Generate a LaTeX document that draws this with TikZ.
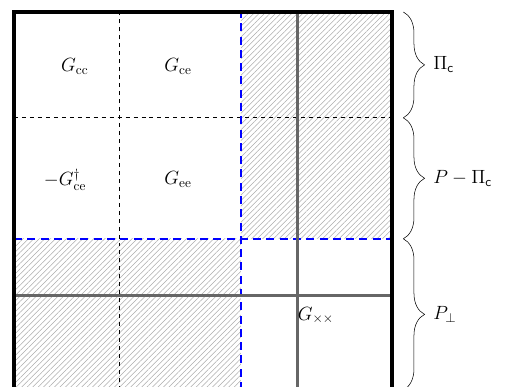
\documentclass[tikz,border=0pt]{standalone}
\usetikzlibrary{patterns.meta,decorations.pathreplacing}
\begin{document}
\begin{tikzpicture}[line cap=butt,line join=miter,every node/.style={font=\Large}]
  \def\N{10}
  \def\xc{2.8}
  \def\xe{6}
  \def\xx{7.5}
  \def\yc{7.2}
  \def\ye{4}
  \def\yx{2.5}
  \useasboundingbox (-0.37,0.079) rectangle (13.36,10.317);

  \coordinate (SW) at (0,0);
  \coordinate (NE) at (\N,\N);

  % Hatched blocks
  \fill[pattern={Lines[angle=45,distance=2.9pt,line width=0.4pt]},pattern color=gray!65] (\xe,\ye) rectangle (\N,\N);
  \fill[pattern={Lines[angle=45,distance=2.9pt,line width=0.4pt]},pattern color=gray!65] (0,0) rectangle (\xe,\ye);

  % Block borders
  \draw[thick,dashed] (\xc,0) -- (\xc,\N);
  \draw[thick,dashed] (0,\yc) -- (\N,\yc);
  \draw[blue,line width=1.6pt,dash pattern=on 6pt off 4pt] (\xe,0) -- (\xe,\N);
  \draw[blue,line width=1.6pt,dash pattern=on 6pt off 4pt] (0,\ye) -- (\N,\ye);
  \draw[black!60,line width=2pt] (\xx,0) -- (\xx,\N);
  \draw[black!60,line width=2pt] (0,\yx) -- (\N,\yx);
  \draw[line width=2.4pt] (SW) rectangle (NE);

  % Labels
  \node (gcc) at (1.61,8.55) {$G_{\mathrm{cc}}$};
  \node (gce) at (4.34,8.55) {$G_{\mathrm{ce}}$};
  \node (gec) at (1.35,5.56) {$-G_{\mathrm{ce}}^{\dagger}$};
  \node (gee) at (4.34,5.56) {$G_{\mathrm{ee}}$};
  \node[anchor=base west,inner sep=0pt] (gxx) at (\xx,1.85) {$G_{\times\times}$};

  % Braces
  \draw[decorate,decoration={brace,amplitude=16pt}] (10.3,\N) -- (10.3,\yc)
    node[midway,right=19pt] (pic) {$\Pi_{\mathsf{c}}$};
  \draw[decorate,decoration={brace,amplitude=16pt}] (10.3,\yc) -- (10.3,\ye)
    node[midway,right=19pt] (pmpic) {$P-\Pi_{\mathsf{c}}$};
  \draw[decorate,decoration={brace,amplitude=16pt}] (10.3,\ye) -- (10.3,0)
    node[midway,right=19pt] (pperp) {$P_{\perp}$};
\end{tikzpicture}
\end{document}
